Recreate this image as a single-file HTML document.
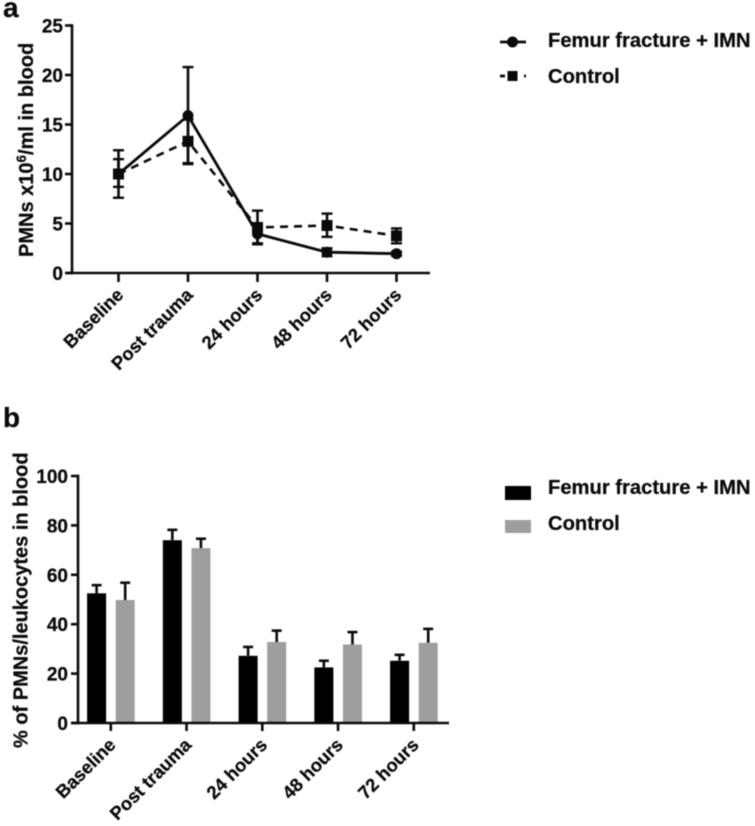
<!DOCTYPE html>
<html lang="en">
<head>
<meta charset="utf-8">
<title>PMNs in blood</title>
<style>
html,body{margin:0;padding:0;background:#fff;width:755px;height:826px;overflow:hidden}
svg{display:block;filter:blur(0.4px)}
text{font-family:"Liberation Sans",sans-serif;font-weight:bold;fill:#0a0a0a;stroke:#0a0a0a;stroke-width:0.25px}
</style>
</head>
<body>
<svg id="fig" xmlns="http://www.w3.org/2000/svg" width="755" height="826" viewBox="0 0 755 826">
  <text x="3" y="17" font-size="28">a</text>
  <text x="3" y="427" font-size="28">b</text>
  <text transform="translate(33,257) rotate(-90)" font-size="20">PMNs x10<tspan dy="-7" font-size="13.5">6</tspan><tspan dy="7">/ml in blood</tspan></text>
  <text transform="translate(27.5,748) rotate(-90)" font-size="20">% of PMNs/leukocytes in blood</text>

  <g>
    <line x1="500" y1="42" x2="526" y2="42" stroke="#0a0a0a" stroke-width="2.8"/>
    <circle cx="512.5" cy="42" r="5.5" fill="#0a0a0a"/>
    <text x="548" y="47" font-size="20.2">Femur fracture + IMN</text>
    <line x1="500" y1="76" x2="505" y2="76" stroke="#0a0a0a" stroke-width="2.8"/>
    <line x1="524" y1="76" x2="526" y2="76" stroke="#0a0a0a" stroke-width="2.8"/>
    <rect x="507.5" y="71" width="10" height="10" fill="#0a0a0a"/>
    <text x="548" y="83" font-size="20.2">Control</text>
  </g>
  <g>
    <rect x="505" y="486" width="26" height="14" fill="#000"/>
    <text x="548" y="494" font-size="20.2">Femur fracture + IMN</text>
    <rect x="505" y="520" width="26" height="13" fill="#9e9e9e"/>
    <text x="548" y="530" font-size="20.2">Control</text>
  </g>
  <g id="chartA"></g>
  <g id="chartB"></g>
</svg>
<script>
var categories = ["Baseline", "Post trauma", "24 hours", "48 hours", "72 hours"];

var aTicks = [0, 5, 10, 15, 20, 25];
var aFemur = [10, 15.9, 3.95, 2.1, 1.95];
var aFemurHigh = [11.5, 20.8, 4.9, 2.5, 2.15];
var aFemurLow = [8.7, 11.0, 3.0, 1.7, 1.75];
var aControl = [10, 13.3, 4.6, 4.8, 3.75];
var aControlHigh = [12.4, 15.5, 6.3, 6.0, 4.5];
var aControlLow = [7.6, 11.1, 2.9, 3.65, 3.0];

var bTicks = [0, 20, 40, 60, 80, 100];
var bFemur = [52.5, 74, 27.2, 22.5, 25.2];
var bFemurHigh = [55.8, 78.2, 30.8, 25.2, 27.6];
var bControl = [49.8, 70.8, 32.8, 31.8, 32.5];
var bControlHigh = [56.8, 74.6, 37.4, 36.8, 38.1];

var NS = "http://www.w3.org/2000/svg";
var INK = "#0a0a0a";
var GREY = "#9e9e9e";

function make(parent, tag, attrs) {
  var el = document.createElementNS(NS, tag);
  for (var k in attrs) el.setAttribute(k, attrs[k]);
  parent.appendChild(el);
  return el;
}

/* ---------- Panel a ---------- */
var chartA = document.getElementById("chartA");
function ax(i) { return 118.5 + i * 69.5; }
function ay(v) { return 273 - v * (247.5 / 25); }

function drawErrorA(i, hi, lo, name) {
  var g = make(chartA, "g", {});
  
  
  var x = ax(i);
  make(g, "line", {x1: x, x2: x, y1: ay(hi), y2: ay(lo), stroke: INK, "stroke-width": 2.6});
  make(g, "line", {x1: x - 5.5, x2: x + 5.5, y1: ay(hi), y2: ay(hi), stroke: INK, "stroke-width": 2.4});
  make(g, "line", {x1: x - 5.5, x2: x + 5.5, y1: ay(lo), y2: ay(lo), stroke: INK, "stroke-width": 2.4});
}

function linePoints(values) {
  return values.map(function (v, i) { return ax(i) + "," + ay(v); }).join(" ");
}

var axisA = make(chartA, "g", {});


make(axisA, "line", {x1: 72, x2: 72, y1: ay(25) - 1.3, y2: ay(0) + 1.3, stroke: INK, "stroke-width": 2.6});
make(axisA, "line", {x1: 66, x2: 430, y1: ay(0), y2: ay(0), stroke: INK, "stroke-width": 2.6});
aTicks.forEach(function (t) {
  make(axisA, "line", {x1: 65, x2: 72, y1: ay(t), y2: ay(t), stroke: INK, "stroke-width": 2.6});
  var label = make(axisA, "text", {x: 63, y: ay(t) + 7, "font-size": 19, "text-anchor": "end"});
  
  
  label.textContent = t;
});
categories.forEach(function (c, i) {
  make(axisA, "line", {x1: ax(i), x2: ax(i), y1: ay(0), y2: ay(0) + 9, stroke: INK, "stroke-width": 2.6});
  var label = make(axisA, "text", {transform: "translate(" + (ax(i) + 6) + ",296) rotate(-45)", "font-size": 18.4, "text-anchor": "end"});
  
  
  label.textContent = c;
});

var controlLine = make(chartA, "polyline", {points: linePoints(aControl), fill: "none", stroke: INK, "stroke-width": 2.6, "stroke-dasharray": "8 6"});


var femurLine = make(chartA, "polyline", {points: linePoints(aFemur), fill: "none", stroke: INK, "stroke-width": 2.8});



aFemur.forEach(function (v, i) {
  drawErrorA(i, aFemurHigh[i], aFemurLow[i], 'femur-error-bar');
  var dot = make(chartA, "circle", {cx: ax(i), cy: ay(v), r: 5.5, fill: INK});
  
  
});
aControl.forEach(function (v, i) {
  drawErrorA(i, aControlHigh[i], aControlLow[i], 'control-error-bar');
  var square = make(chartA, "rect", {x: ax(i) - 5.5, y: ay(v) - 5.5, width: 11, height: 11, fill: INK});
  
  
});

/* ---------- Panel b ---------- */
var chartB = document.getElementById("chartB");
function bx(i) { return 110.8 + i * 75.75; }
function by(v) { return 723 - v * (247 / 100); }

function drawBar(i, offset, value, high, fill, name, errName) {
  var cx = bx(i) + offset;
  var top = by(value);
  var bar = make(chartB, "rect", {x: cx - 9.5, y: top, width: 19, height: by(0) - top, fill: fill});
  
  
  var g = make(chartB, "g", {});
  
  
  make(g, "line", {x1: cx, x2: cx, y1: top, y2: by(high), stroke: INK, "stroke-width": 2.6});
  make(g, "line", {x1: cx - 5, x2: cx + 5, y1: by(high), y2: by(high), stroke: INK, "stroke-width": 2.6});
}

categories.forEach(function (c, i) {
  drawBar(i, -14.2, bFemur[i], bFemurHigh[i], "#000", 'femur-bar', 'femur-bar-error');
  drawBar(i, 14.4, bControl[i], bControlHigh[i], GREY, 'control-bar', 'control-bar-error');
});

var axisB = make(chartB, "g", {});


make(axisB, "line", {x1: 78, x2: 78, y1: by(100) - 1.3, y2: by(0) + 1.3, stroke: INK, "stroke-width": 2.6});
make(axisB, "line", {x1: 71, x2: 449, y1: by(0), y2: by(0), stroke: INK, "stroke-width": 2.6});
bTicks.forEach(function (t) {
  make(axisB, "line", {x1: 71, x2: 78, y1: by(t), y2: by(t), stroke: INK, "stroke-width": 2.6});
  var label = make(axisB, "text", {x: 68, y: by(t) + 7, "font-size": 19, "text-anchor": "end"});
  
  
  label.textContent = t;
});
categories.forEach(function (c, i) {
  make(axisB, "line", {x1: bx(i), x2: bx(i), y1: by(0), y2: by(0) + 8, stroke: INK, "stroke-width": 2.6});
  var label = make(axisB, "text", {transform: "translate(" + (bx(i) + 6) + ",746) rotate(-45)", "font-size": 18.4, "text-anchor": "end"});
  
  
  label.textContent = c;
});
</script>
</body>
</html>
